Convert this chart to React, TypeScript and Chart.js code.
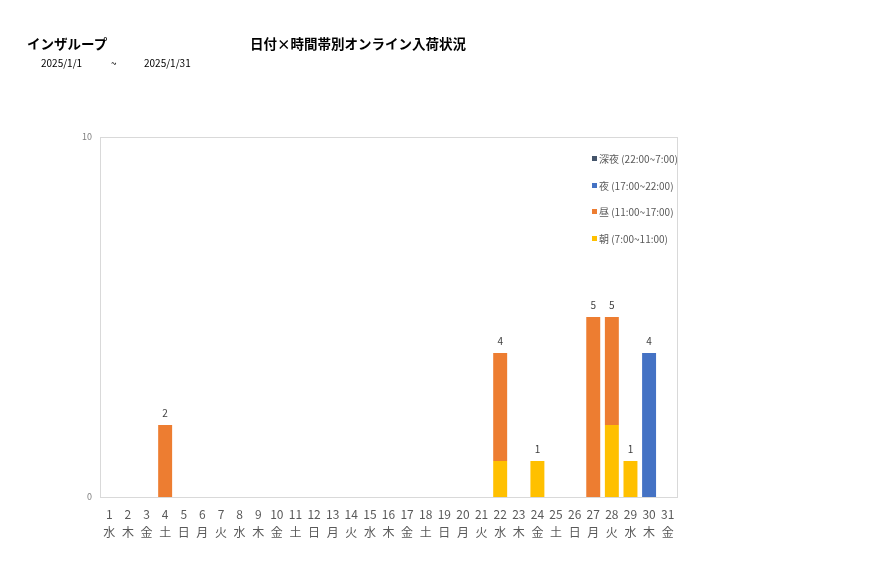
import React, { useEffect, useRef } from "react";
import { Chart, registerables } from "chart.js";

Chart.register(...registerables);

const days = Array.from({ length: 31 }, (_, i) => String(i + 1));
const weekdays = ["水","木","金","土","日","月","火","水","木","金","土","日","月","火","水","木","金","土","日","月","火","水","木","金","土","日","月","火","水","木","金"];
const asa = [0,0,0,0,0,0,0,0,0,0,0,0,0,0,0,0,0,0,0,0,0,1,0,1,0,0,0,2,1,0,0];
const hiru = [0,0,0,2,0,0,0,0,0,0,0,0,0,0,0,0,0,0,0,0,0,3,0,0,0,0,5,3,0,0,0];
const yoru = [0,0,0,0,0,0,0,0,0,0,0,0,0,0,0,0,0,0,0,0,0,0,0,0,0,0,0,0,0,4,0];
const shinya = [0,0,0,0,0,0,0,0,0,0,0,0,0,0,0,0,0,0,0,0,0,0,0,0,0,0,0,0,0,0,0];
const seriesNames = ["朝 (7:00~11:00)", "昼 (11:00~17:00)", "夜 (17:00~22:00)", "深夜 (22:00~7:00)"];
const seriesColors = ["#FFC000", "#ED7D31", "#4472C4", "#44546A"];
const yTicks = [0, 10];

const FONT = "'Noto Sans CJK JP', 'Noto Sans', sans-serif";

export default function App() {
  const ref = useRef<HTMLCanvasElement>(null);
  useEffect(() => {
    const values = [asa, hiru, yoru, shinya];
    const totals = days.map((_, i) => values.reduce((s, v) => s + v[i], 0));
    const frame = {
      id: "frame",
      beforeDatasetsDraw(chart: any) {
        const { ctx, chartArea: a } = chart;
        ctx.save();
        ctx.strokeStyle = "#d9d9d9";
        ctx.lineWidth = 1;
        ctx.strokeRect(a.left + 0.5, a.top + 0.5, a.right - a.left, a.bottom - a.top);
        ctx.restore();
      },
      afterDatasetsDraw(chart: any) {
        const { ctx } = chart;
        const xs = chart.scales.x;
        const ys = chart.scales.y;
        ctx.save();
        ctx.fillStyle = "#404040";
        ctx.font = `10px ${FONT}`;
        ctx.textAlign = "center";
        ctx.textBaseline = "bottom";
        totals.forEach((t, i) => {
          if (t > 0) ctx.fillText(String(t), xs.getPixelForValue(i), ys.getPixelForValue(t) - 7);
        });
        ctx.restore();
      },
    };
    const chart = new Chart(ref.current!, {
      type: "bar",
      data: {
        labels: days.map((d, i) => [d, weekdays[i]]),
        datasets: values.map((v, k) => ({
          label: seriesNames[k],
          data: v,
          backgroundColor: seriesColors[k],
          categoryPercentage: 0.75,
          barPercentage: 1,
        })),
      },
      options: {
        animation: false,
        responsive: false,
        layout: { padding: { left: 70, right: 200, top: 137, bottom: 31 } },
        plugins: { legend: { display: false }, tooltip: { enabled: false } },
        scales: {
          x: {
            stacked: true,
            grid: { display: false },
            border: { display: false },
            ticks: { color: "#595959", font: { size: 12, family: FONT, lineHeight: 1.55 }, padding: 0, maxRotation: 0, autoSkip: false },
            afterFit(s: any) { s.height = 50; },
          },
          y: {
            stacked: true,
            min: 0,
            max: 10,
            grid: { display: false },
            border: { display: false },
            afterBuildTicks(s: any) { s.ticks = yTicks.map((v) => ({ value: v })); },
            ticks: { color: "#7f7f7f", font: { size: 9, family: FONT }, padding: 0 },
            afterFit(s: any) { s.width = 30; },
          },
        },
      },
      plugins: [frame],
    });
    return () => chart.destroy();
  }, []);

  const legendOrder = [3, 2, 1, 0];
  return (
    <div style={{ position: "fixed", left: 0, top: 0, width: 877, height: 578, background: "#fff", fontFamily: FONT }}>
      <canvas ref={ref} width={877} height={578} style={{ position: "absolute", left: 0, top: 0 }} />
      <div style={{ position: "absolute", left: 27, top: 33, fontSize: 13.5, fontWeight: "bold", color: "#000" }}>インザループ</div>
      <div style={{ position: "absolute", left: 250, top: 33, fontSize: 13.5, fontWeight: "bold", color: "#000" }}>日付×時間帯別オンライン入荷状況</div>
      <div style={{ position: "absolute", left: 41, top: 55, fontSize: 10, color: "#000" }}>2025/1/1</div>
      <div style={{ position: "absolute", left: 111, top: 55, fontSize: 10, color: "#000" }}>~</div>
      <div style={{ position: "absolute", left: 144, top: 55, fontSize: 10, color: "#000" }}>2025/1/31</div>
      {legendOrder.map((k, j) => (
        <div key={k} style={{ position: "absolute", left: 592, top: 151 + j * 26.5, fontSize: 10, color: "#595959", display: "flex", alignItems: "center", whiteSpace: "nowrap" }}>
          <span style={{ display: "inline-block", width: 5, height: 5, background: seriesColors[k], marginRight: 2 }} />
          {seriesNames[k]}
        </div>
      ))}
    </div>
  );
}
